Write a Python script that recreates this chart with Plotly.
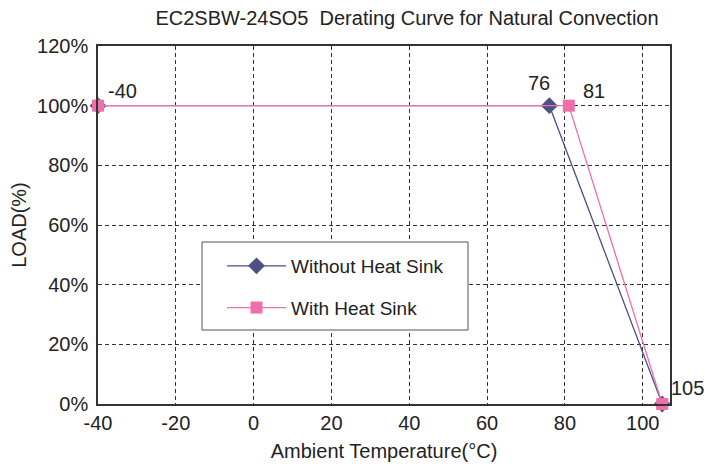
import plotly.graph_objects as go

title_text = "EC2SBW-24SO5  Derating Curve for Natural Convection"
series_names = ["Without Heat Sink", "With Heat Sink"]
without_x = [-40, 76, 105]
without_y = [1.0, 1.0, 0.0]
with_x = [-40, 81, 105]
with_y = [1.0, 1.0, 0.0]
x_ticks = [-40, -20, 0, 20, 40, 60, 80, 100]
y_ticks = [0, 0.2, 0.4, 0.6, 0.8, 1.0, 1.2]
point_labels = ["-40", "76", "81", "105"]
label_x = [-40, 76, 81, 105]
label_y = [1.0, 1.0, 1.0, 0.0]

navy = "#4b5185"
pink = "#f06eaa"
font_family = "Liberation Sans, Arial, sans-serif"

# figure geometry (page is offset by 8px body margin)
W, H = 704, 458
L, R, T, B = 90, 42, 38, 62
PW, PH = W - L - R, H - T - B

fig = go.Figure()
fig.add_trace(go.Scatter(
    x=without_x, y=without_y, mode="lines+markers", name=series_names[0],
    line=dict(color=navy, width=1.3),
    marker=dict(symbol="diamond", size=13, color=navy),
    legendgroup="a", cliponaxis=False,
))
fig.add_trace(go.Scatter(
    x=with_x, y=with_y, mode="lines+markers", name=series_names[1],
    line=dict(color=pink, width=1.3),
    marker=dict(symbol="square", size=12, color=pink),
    legendgroup="b", cliponaxis=False,
))

shifts = [(24, 15), (-10, 23), (25, 15), (25, 16)]
for t, xv, yv, (dx, dy) in zip(point_labels, label_x, label_y, shifts):
    fig.add_annotation(x=xv, y=yv, text=t, showarrow=False,
                       xshift=dx, yshift=dy,
                       font=dict(size=20, color="#222", family=font_family))

# legend frame (figure px: x 194..460, y 234..322)
fig.add_shape(type="rect", xref="paper", yref="paper",
              x0=(194 - L) / PW, x1=(460 - L) / PW,
              y0=(T + PH - 322) / PH, y1=(T + PH - 234) / PH,
              line=dict(color="#555", width=1), fillcolor="white", layer="above")

fig.update_layout(
    width=W, height=H,
    margin=dict(l=L, r=R, t=T, b=B),
    paper_bgcolor="white", plot_bgcolor="white",
    font=dict(family=font_family, size=20, color="#222"),
    title=dict(text=title_text, x=399 / W, xanchor="center",
               y=1 - 10 / H, yanchor="middle",
               font=dict(size=20, color="#222")),
    showlegend=True,
    legend=dict(x=(214 - L) / PW, y=(T + PH - 239) / PH, xanchor="left", yanchor="top",
                bgcolor="rgba(0,0,0,0)", borderwidth=0, itemwidth=59,
                font=dict(size=19, color="#222"), tracegroupgap=14),
)
fig.update_xaxes(
    range=[-40, 107], tickvals=x_ticks, ticktext=[str(v) for v in x_ticks],
    showline=True, mirror=True, linecolor="#333", linewidth=1.5,
    showgrid=True, gridcolor="#333", griddash="4px,3px", gridwidth=1,
    zeroline=False, ticks="", tickfont=dict(size=20), automargin=False,
    title=dict(text="Ambient Temperature(°C)", font=dict(size=20), standoff=11),
)
fig.update_yaxes(
    range=[0, 1.2], tickvals=y_ticks, tickformat=".0%",
    showline=True, mirror=True, linecolor="#333", linewidth=1.5,
    showgrid=True, gridcolor="#333", griddash="4px,3px", gridwidth=1,
    zeroline=False, ticks="", tickfont=dict(size=20), ticklabelstandoff=4,
    automargin=False,
    title=dict(text="LOAD(%)", font=dict(size=20), standoff=6),
)

fig.write_html("out.html")
